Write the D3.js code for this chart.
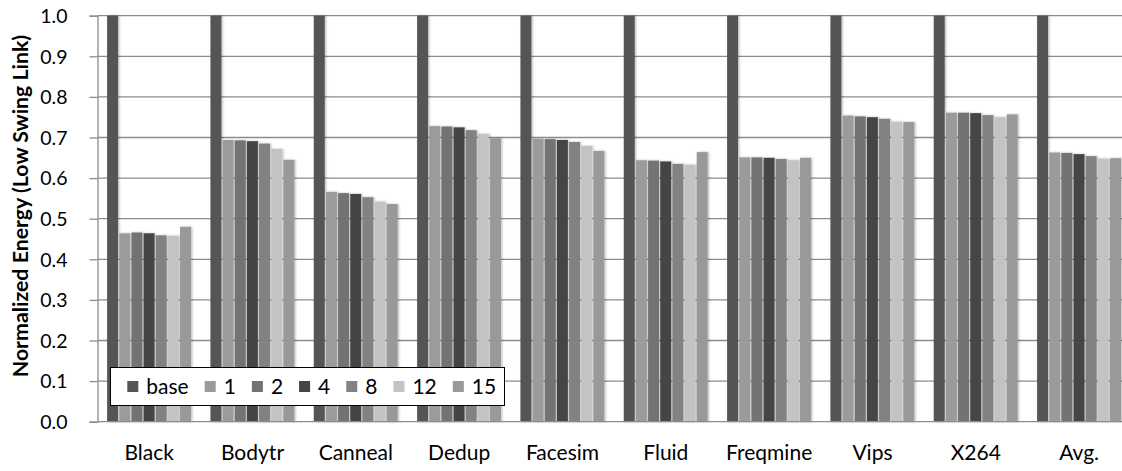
<!DOCTYPE html>
<html><head><meta charset="utf-8">
<script src="https://cdn.jsdelivr.net/npm/d3@7"></script>
<style>
html,body{margin:0;padding:0;background:#fff;}
text{font-family:Lato,"Open Sans",sans-serif;fill:#000;}
</style></head>
<body>
<svg id="chart" width="1122" height="471"></svg>
<script>
const categories = ["Black","Bodytr","Canneal","Dedup","Facesim","Fluid","Freqmine","Vips","X264","Avg."];
const seriesNames = ["base","1","2","4","8","12","15"];
const seriesBase = [1,1,1,1,1,1,1,1,1,1];
const series1  = [0.464,0.694,0.566,0.728,0.697,0.644,0.651,0.754,0.761,0.663];
const series2  = [0.466,0.693,0.563,0.727,0.696,0.643,0.651,0.752,0.761,0.662];
const series4  = [0.464,0.691,0.561,0.725,0.694,0.641,0.650,0.750,0.760,0.659];
const series8  = [0.459,0.685,0.553,0.718,0.689,0.635,0.647,0.746,0.755,0.654];
const series12 = [0.458,0.672,0.542,0.709,0.679,0.633,0.644,0.739,0.750,0.648];
const series15 = [0.480,0.645,0.536,0.698,0.667,0.664,0.650,0.738,0.757,0.649];
const yTicks = [0,0.1,0.2,0.3,0.4,0.5,0.6,0.7,0.8,0.9,1.0];
const colors = ["#555555","#9b9b9b","#737373","#454545","#828282","#c3c3c3","#999999"];
const yTitle = "Normalized Energy (Low Swing Link)";

const allSeries = [seriesBase,series1,series2,series4,series8,series12,series15];

const svg = d3.select("#chart");
const plotLeft = 97.5, plotTop = 15.7, plotBottom = 421.7;
const step = 103.33;
const plotRight = plotLeft + step*categories.length;

const defs = svg.append("defs");
const f = defs.append("filter").attr("id","sh").attr("x","-20%").attr("y","-5%").attr("width","160%").attr("height","110%");
f.append("feDropShadow").attr("dx",1.2).attr("dy",0).attr("stdDeviation",0.9).attr("flood-color","#000").attr("flood-opacity",0.28);

const y = d3.scaleLinear().domain([0,1]).range([plotBottom, plotTop]);
const x0 = d3.scaleBand().domain(categories).range([plotLeft, plotRight]);
const g = x0.step()*0.75/8.5;
const x1 = d3.scaleBand().domain(seriesNames).range([g, x0.step()-g]);

// gridlines
svg.append("g").selectAll("line").data(yTicks.filter(d=>d>0)).join("line")
  .attr("x1",plotLeft).attr("x2",1122)
  .attr("y1",d=>y(d)).attr("y2",d=>y(d))
  .attr("stroke","#8c8c8c").attr("stroke-width",1.3);

// bars
const groups = svg.append("g").selectAll("g").data(categories).join("g")
  .attr("transform",d=>`translate(${x0(d)},0)`);
groups.selectAll("rect").data((c,i)=>seriesNames.map((s,j)=>({s, j, v: allSeries[j][i]}))).join("rect")
  .attr("x",d=>x1(d.s)+0.5)
  .attr("width",x1.bandwidth()-1.2)
  .attr("y",d=>y(d.v))
  .attr("height",d=>y(0)-y(d.v))
  .attr("fill",d=>colors[d.j])
  .attr("filter","url(#sh)");

// bottom axis line
svg.append("line").attr("x1",plotLeft).attr("x2",1122).attr("y1",plotBottom).attr("y2",plotBottom)
  .attr("stroke","#8c8c8c").attr("stroke-width",1.3);

// y axis
const yAxis = svg.append("g").attr("transform",`translate(${plotLeft},0)`)
  .call(d3.axisLeft(y).tickValues(yTicks).tickFormat(d=>d.toFixed(1)).tickSize(8).tickPadding(22));
yAxis.select(".domain").attr("stroke","#8c8c8c").attr("stroke-width",1.3);
yAxis.selectAll(".tick line").attr("stroke","#8c8c8c").attr("stroke-width",1.3);
yAxis.selectAll("text").attr("font-size",19.5).attr("font-family","Lato").attr("fill","#000").attr("dy","0.35em");

// category labels
svg.append("g").selectAll("text").data(categories).join("text")
  .attr("x",d=>x0(d)+x0.bandwidth()/2).attr("y",460)
  .attr("text-anchor","middle").attr("font-size",21).text(d=>d);

// y title
svg.append("text").attr("transform","translate(28,206) rotate(-90)")
  .attr("text-anchor","middle").attr("font-size",21.3).attr("font-weight","bold").text(yTitle);

// legend
const leg = svg.append("g");
leg.append("rect").attr("x",110.5).attr("y",367.5).attr("width",394).attr("height",38)
  .attr("fill","#fff").attr("stroke","#000").attr("stroke-width",1);
let lx = 127.3;
seriesNames.forEach((s,j)=>{
  leg.append("rect").attr("x",lx).attr("y",381).attr("width",11).attr("height",11).attr("fill",colors[j]);
  const t = leg.append("text").attr("x",lx+19).attr("y",394).attr("font-size",21).text(s);
  lx += 19 + t.node().getComputedTextLength() + 16;
});
</script>
</body></html>
